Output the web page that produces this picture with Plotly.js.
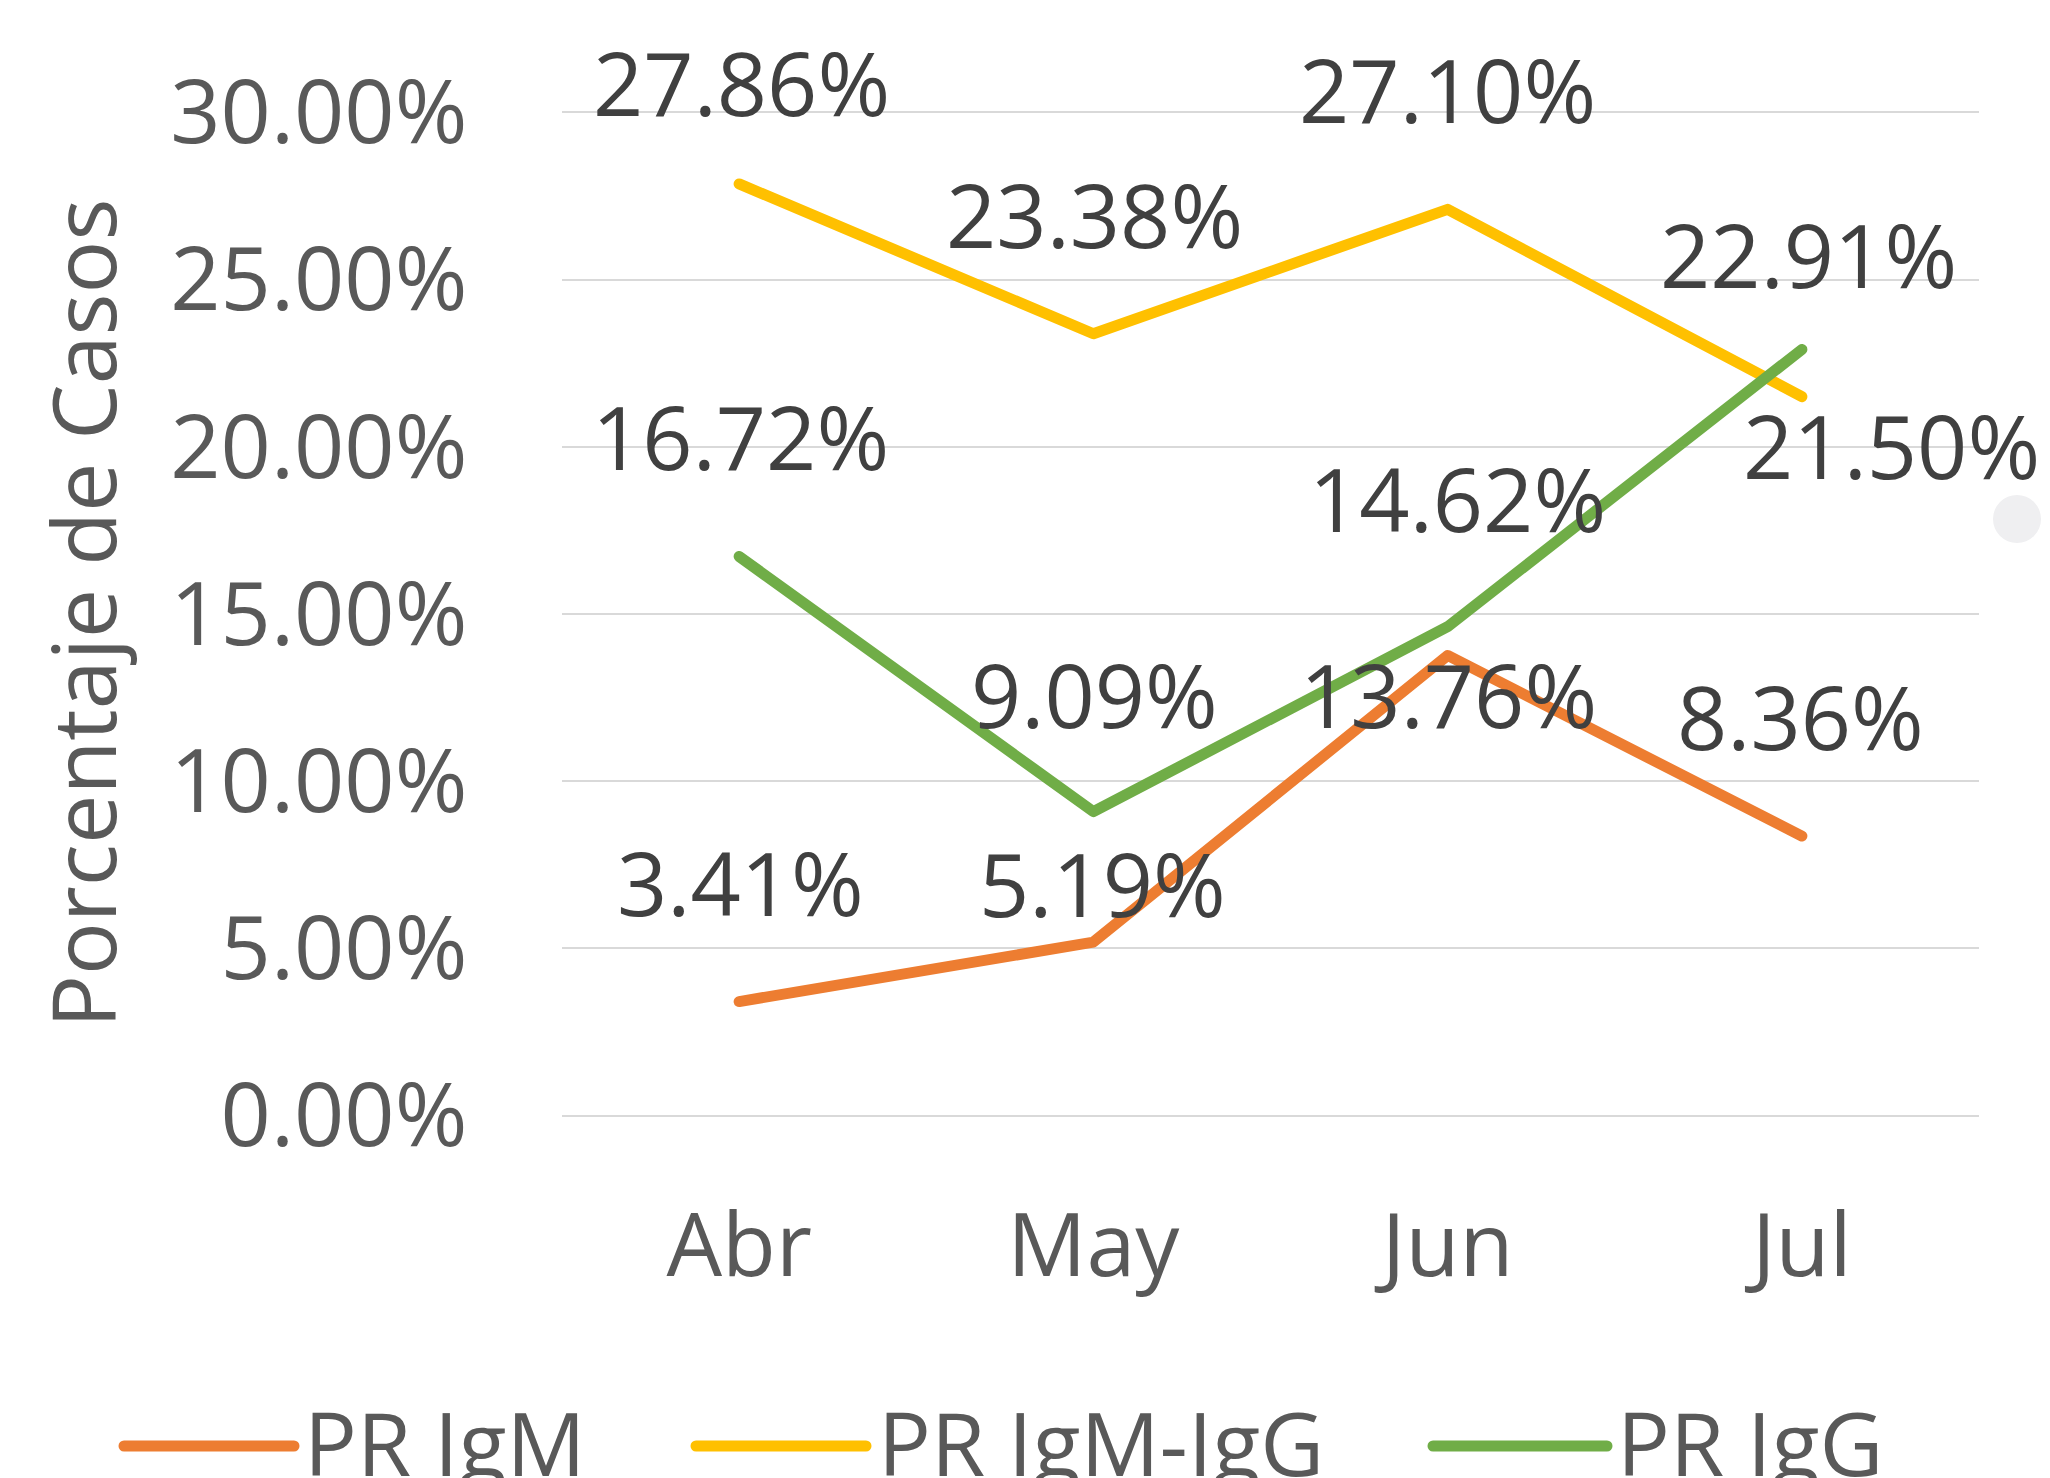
<!DOCTYPE html>
<html><head><meta charset="utf-8">
<script src="https://cdn.plot.ly/plotly-3.0.1.min.js"></script>
<style>
html,body{margin:0;padding:0;background:#fff;overflow:hidden}
.js-line{stroke-linecap:round !important;stroke-linejoin:round !important}
.shapelayer path{stroke-linecap:round !important}
</style>
</head><body>
<div id="chart" style="width:2050px;height:1478px"></div>
<script>
// ---- data ----
const months = ['Abr', 'May', 'Jun', 'Jul'];
const seriesNames = ['PR IgM', 'PR IgM-IgG', 'PR IgG'];
const prIgM = [3.41, 5.19, 13.76, 8.36];
const prIgMIgG = [27.86, 23.38, 27.10, 21.50];
const prIgG = [16.72, 9.09, 14.62, 22.91];
const yTickVals = [0, 5, 10, 15, 20, 25, 30];
const yTickText = ['0.00%', '5.00%', '10.00%', '15.00%', '20.00%', '25.00%', '30.00%'];
const yAxisTitle = 'Porcentaje de Casos';

// ---- style ----
const W = 2050, H = 1478;
const M = {l: 562, r: 71, t: 109, b: 359};
const FONT = 'Open Sans, Noto Sans, sans-serif';
const FS = 88;
const colors = ['#ED7D31', '#FFC000', '#70AD47'];
const seriesValues = [prIgM, prIgMIgG, prIgG];
// label offsets in px (dx, dy up) per series per month
const labelOffsets = [
  [[1, 120], [9, 59], [1, -39], [-1, 120]],
  [[2, 102], [1, 120], [0, 120], [90, -48]],
  [[1, 120], [1, 118], [10, 129], [7, 95]]
];

const plotW = W - M.l - M.r, plotH = H - M.t - M.b;
const px2x = px => (px - M.l) / plotW;
const px2y = py => (H - M.b - py) / plotH;

const traces = seriesValues.map((vals, i) => ({
  type: 'scatter', mode: 'lines', x: months, y: vals, name: seriesNames[i],
  line: {color: colors[i], width: 11, shape: 'linear'},
  hoverinfo: 'skip', showlegend: false, cliponaxis: false
}));

const annotations = [];
seriesValues.forEach((vals, i) => {
  vals.forEach((v, j) => {
    annotations.push({
      x: months[j], y: v, xref: 'x', yref: 'y', showarrow: false,
      text: v.toFixed(2) + '%', xshift: labelOffsets[i][j][0], yshift: labelOffsets[i][j][1],
      font: {family: FONT, size: FS, color: '#404040'}
    });
  });
});

// y axis title (rotated)
annotations.push({xref: 'paper', yref: 'paper', x: px2x(82), y: 0.5, xanchor: 'center', yanchor: 'middle',
  textangle: -90, showarrow: false, text: yAxisTitle,
  font: {family: FONT, size: FS, color: '#595959'}});

// custom legend (long line swatches)
const legendItems = [
  {line: [124, 294], text: 302},
  {line: [696, 866], text: 876},
  {line: [1433, 1607], text: 1615}
];
const legendY = 1442;
const shapes = [];
legendItems.forEach((it, i) => {
  shapes.push({type: 'line', xref: 'paper', yref: 'paper',
    x0: px2x(it.line[0]), x1: px2x(it.line[1]), y0: px2y(1446), y1: px2y(1446),
    line: {color: colors[i], width: 11}});
  annotations.push({xref: 'paper', yref: 'paper', x: px2x(it.text), y: px2y(legendY),
    xanchor: 'left', yanchor: 'middle', showarrow: false, text: seriesNames[i],
    font: {family: FONT, size: FS, color: '#595959'}});
});
// faint selection handle at right edge
shapes.push({type: 'circle', xref: 'paper', yref: 'paper',
  x0: px2x(1993), x1: px2x(2041), y0: px2y(543), y1: px2y(495),
  fillcolor: '#EFEFF1', line: {width: 0}});

const layout = {
  width: W, height: H, margin: M,
  paper_bgcolor: '#FFFFFF', plot_bgcolor: '#FFFFFF',
  font: {family: FONT, size: FS, color: '#595959'},
  showlegend: false,
  xaxis: {type: 'category', range: [-0.5, 3.5], showgrid: false, zeroline: false, showline: false,
    ticks: 'outside', ticklen: 50, tickcolor: 'rgba(0,0,0,0)',
    tickfont: {family: FONT, size: FS, color: '#595959'}, fixedrange: true},
  yaxis: {range: [-0.1, 30.1], tickmode: 'array', tickvals: yTickVals, ticktext: yTickText,
    showgrid: true, gridcolor: '#D9D9D9', gridwidth: 2, zeroline: false, showline: false,
    ticks: 'outside', ticklen: 76, tickcolor: 'rgba(0,0,0,0)',
    tickfont: {family: FONT, size: FS, color: '#595959'},
    fixedrange: true},
  annotations: annotations,
  shapes: shapes
};

Plotly.newPlot('chart', traces, layout, {displayModeBar: false, staticPlot: true});
</script>
</body></html>
